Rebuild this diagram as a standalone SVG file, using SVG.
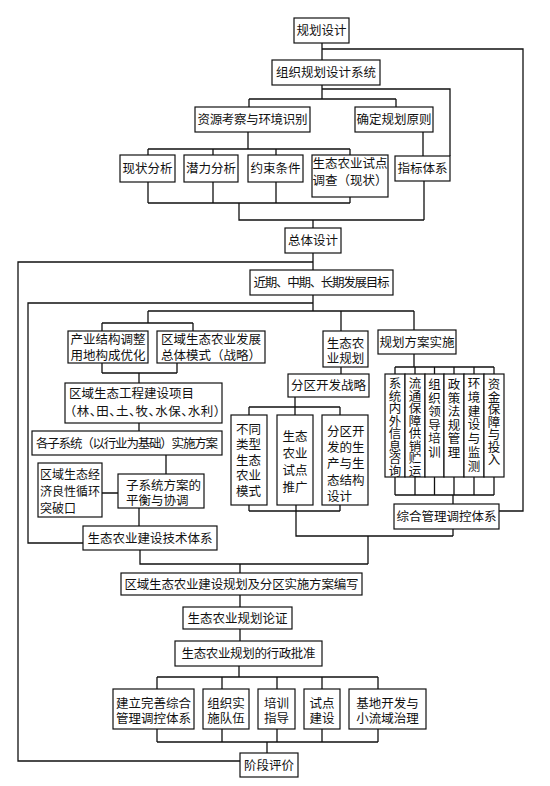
<svg xmlns="http://www.w3.org/2000/svg" width="550" height="786" viewBox="0 0 550 786">
<style>
.b{fill:#fff;stroke:#111;stroke-width:1.2}
.t{font-family:"Noto Sans CJK SC","Noto Sans CJK JP",sans-serif;font-size:12.5px;fill:#111;text-anchor:middle}
.s{text-anchor:start}
.h{font-feature-settings:"halt"}
.v{writing-mode:vertical-rl;text-anchor:start}
#connectors path{fill:none;stroke:#111;stroke-width:1.3}
</style>
<rect width="550" height="786" fill="#fff"/>
<g id="connectors">
<path d="M322,43V60M322,49H523V511H499M322,85V99M322,89H450V156M249,99H396M249,99V107M396,99V107"/>
<path d="M248,132V149M148,149H350M148,149V155M213,149V155M276,149V155M350,149V155M423,132V156"/>
<path d="M148,182V203M213,182V203M276,182V203M350,197V203M148,203H350M239,203V220H424M424,181V220M313,220V228"/>
<path d="M313,253V270M313,262H18V761H240M313,295V311M313,303H28V543H83"/>
<path d="M148,311H414M148,311V323M102,323H193M102,323V331M193,323V331M341,311V331M414,311V330"/>
<path d="M102,363V373M177,363V373M102,373H177M139,373V383M139,423V431M166,455V474M102,493H118M139,508V526"/>
<path d="M341,367V374M295,397V407M249,407H340M249,407V415M295,407V415M340,407V415"/>
<path d="M414,354V367M395,367H494M395,367V374M415,367V374M434.5,367V374M454,367V374M474,367V374M494,367V374"/>
<path d="M395,477V495M415,477V495M434.5,477V495M454,477V495M474,477V495M494,477V495M395,495H494M453,495V504"/>
<path d="M249,505V511M340,505V511M249,511H340M296,505V536H453M453,529V536M368,536V564M140,550V564H368M240,564V573"/>
<path d="M240,595V607M240,629V641M239,666V677M157,677H378M157,677V689M222,677V689M277,677V689M322,677V689M378,677V689"/>
<path d="M157,729V742M222,729V742M277,729V742M322,729V742M378,729V742M157,742H378M267,742V753"/>
</g>
<g id="n1"><rect class="b" x="294" y="18" width="55" height="25"/><text class="t" x="321.5" y="35">规划设计</text></g>
<g id="n2"><rect class="b" x="272" y="60" width="108" height="25"/><text class="t" x="326" y="77">组织规划设计系统</text></g>
<g id="n3"><rect class="b" x="195" y="107" width="115" height="25"/><text class="t" x="252.5" y="124" textLength="110">资源考察与环境识别</text></g>
<g id="n4"><rect class="b" x="355" y="107" width="78" height="25"/><text class="t" x="394" y="124">确定规划原则</text></g>
<g id="n5"><rect class="b" x="120" y="155" width="55" height="27"/><text class="t" x="147.5" y="173">现状分析</text></g>
<g id="n6"><rect class="b" x="184" y="155" width="54" height="27"/><text class="t" x="211" y="173">潜力分析</text></g>
<g id="n7"><rect class="b" x="248" y="155" width="55" height="27"/><text class="t" x="275.5" y="173">约束条件</text></g>
<g id="n8"><rect class="b" x="312" y="155" width="76" height="42"/><text class="t" x="350" y="167.5">生态农业试点</text><text class="t" x="350" y="184.5">调查（现状）</text></g>
<g id="n9"><rect class="b" x="395" y="156" width="55" height="25"/><text class="t" x="422.5" y="173">指标体系</text></g>
<g id="n10"><rect class="b" x="285" y="228" width="56" height="25"/><text class="t" x="313" y="245">总体设计</text></g>
<g id="n11"><rect class="b" x="250" y="270" width="143" height="25"/><text class="t" x="321.5" y="287" textLength="136">近期、中期、长期发展目标</text></g>
<g id="n12"><rect class="b" x="68" y="331" width="80" height="32"/><text class="t" x="108" y="344">产业结构调整</text><text class="t" x="108" y="359.5">用地构成优化</text></g>
<g id="n13"><rect class="b" x="157" y="331" width="108" height="32"/><text class="t" x="211" y="344">区域生态农业发展</text><text class="t" x="211" y="359.5">总体模式（战略）</text></g>
<g id="n14"><rect class="b" x="323" y="331" width="45" height="36"/><text class="t" x="345.5" y="348">生态农</text><text class="t" x="345.5" y="363">业规划</text></g>
<g id="n15"><rect class="b" x="378" y="330" width="78" height="24"/><text class="t" x="417" y="346.5">规划方案实施</text></g>
<g id="n16"><rect class="b" x="65" y="383" width="157" height="40"/><text class="t s" x="69" y="397.5">区域生态工程建设项目</text><text class="t s h" x="70" y="415.5" textLength="150">（林、田、土、牧、水保、水利）</text></g>
<g id="n17"><rect class="b" x="32" y="431" width="190" height="24"/><text class="t" x="127" y="447.5" textLength="182">各子系统（以行业为基础）实施方案</text></g>
<g id="n18"><rect class="b" x="38" y="463" width="64" height="54"/><text class="t s" x="40" y="478.5" style="font-size:12px">区域生态经</text><text class="t s" x="40" y="495.5" style="font-size:12px">济良性循环</text><text class="t s" x="40" y="512.5" style="font-size:12px">突破口</text></g>
<g id="n19"><rect class="b" x="118" y="474" width="86" height="34"/><text class="t s" x="126" y="489.5">子系统方案的</text><text class="t s" x="126" y="504.5">平衡与协调</text></g>
<g id="n20"><rect class="b" x="83" y="526" width="134" height="24"/><text class="t" x="150" y="542.5">生态农业建设技术体系</text></g>
<g id="n21"><rect class="b" x="288" y="374" width="81" height="23"/><text class="t" x="328.5" y="390">分区开发战略</text></g>
<g id="n22"><rect class="b" x="231" y="415" width="36" height="90"/><text class="t s" x="236" y="433.5">不同</text><text class="t s" x="236" y="449">类型</text><text class="t s" x="236" y="464.5">生态</text><text class="t s" x="236" y="480">农业</text><text class="t s" x="236" y="495.5">模式</text></g>
<g id="n23"><rect class="b" x="277" y="415" width="36" height="90"/><text class="t" x="295" y="440.5">生态</text><text class="t" x="295" y="457.5">农业</text><text class="t" x="295" y="474.5">试点</text><text class="t" x="295" y="491.5">推广</text></g>
<g id="n24"><rect class="b" x="322" y="415" width="46" height="90"/><text class="t s" x="327" y="435.5">分区开</text><text class="t s" x="327" y="451.5">发的生</text><text class="t s" x="327" y="468">产与生</text><text class="t s" x="327" y="484.5">态结构</text><text class="t s" x="327" y="500.5">设计</text></g>
<g id="n25"><rect class="b" x="385" y="374" width="20" height="103"/><text class="t v" x="395" y="377">系统内外信息咨询</text></g>
<g id="n26"><rect class="b" x="405" y="374" width="20" height="103"/><text class="t v" x="415" y="377">流通保障供销贮运</text></g>
<g id="n27"><rect class="b" x="425" y="374" width="19" height="103"/><text class="t v" x="434.5" y="378" style="letter-spacing:1px">组织领导培训</text></g>
<g id="n28"><rect class="b" x="444" y="374" width="20" height="103"/><text class="t v" x="454" y="378" style="letter-spacing:1px">政策法规管理</text></g>
<g id="n29"><rect class="b" x="464" y="374" width="20" height="103"/><text class="t v" x="474" y="377" style="letter-spacing:1.3px">环境建设与监测</text></g>
<g id="n30"><rect class="b" x="484" y="374" width="20" height="103"/><text class="t v" x="494" y="378">资金保障与投入</text></g>
<g id="n31"><rect class="b" x="394" y="504" width="105" height="25"/><text class="t" x="446.5" y="521">综合管理调控体系</text></g>
<g id="n32"><rect class="b" x="121" y="573" width="241" height="22"/><text class="t" x="241.5" y="588.5" textLength="234">区域生态农业建设规划及分区实施方案编写</text></g>
<g id="n33"><rect class="b" x="183" y="607" width="109" height="22"/><text class="t" x="237.5" y="622.5">生态农业规划论证</text></g>
<g id="n34"><rect class="b" x="175" y="641" width="147" height="25"/><text class="t" x="248.5" y="658" textLength="134">生态农业规划的行政批准</text></g>
<g id="n35"><rect class="b" x="113" y="689" width="81" height="40"/><text class="t" x="153.5" y="708">建立完善综合</text><text class="t" x="153.5" y="723">管理调控体系</text></g>
<g id="n36"><rect class="b" x="203" y="689" width="46" height="40"/><text class="t" x="226" y="708">组织实</text><text class="t" x="226" y="723">施队伍</text></g>
<g id="n37"><rect class="b" x="258" y="689" width="37" height="40"/><text class="t" x="276.5" y="708">培训</text><text class="t" x="276.5" y="723">指导</text></g>
<g id="n38"><rect class="b" x="304" y="689" width="36" height="40"/><text class="t" x="322" y="708">试点</text><text class="t" x="322" y="723">建设</text></g>
<g id="n39"><rect class="b" x="349" y="689" width="77" height="40"/><text class="t" x="387.5" y="708">基地开发与</text><text class="t" x="387.5" y="723">小流域治理</text></g>
<g id="n40"><rect class="b" x="240" y="753" width="58" height="24"/><text class="t" x="269" y="769.5">阶段评价</text></g>
</svg>
